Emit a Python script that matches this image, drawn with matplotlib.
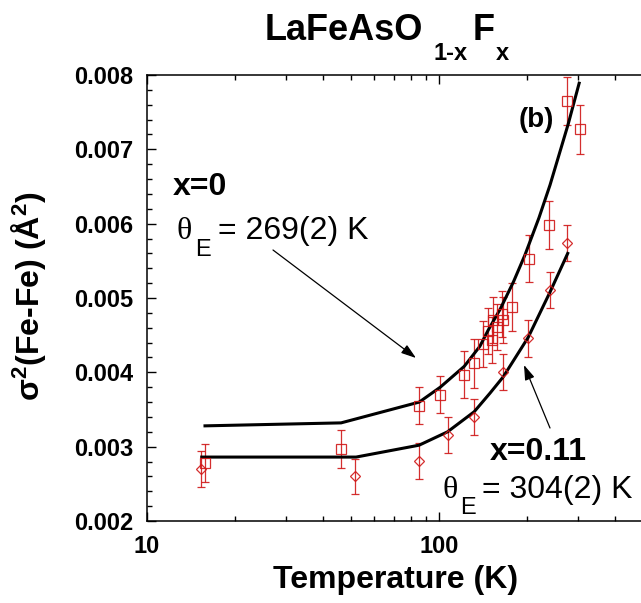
import matplotlib
matplotlib.use('Agg')
import matplotlib.pyplot as plt
from matplotlib.ticker import FixedLocator, MultipleLocator, FormatStrFormatter, NullFormatter

# x = 0 (squares)
sq_T = [15.8, 46.2, 85.6, 101, 121.8, 132.1, 141.8, 146.8, 151.5, 152.7,
        157.6, 163.9, 166.0, 177.4, 202.8, 238.1, 274.4, 304]
sq_y = [0.00278, 0.00297, 0.00355, 0.00370, 0.00397, 0.00412, 0.00438, 0.00456,
        0.00443, 0.00471, 0.00461, 0.00479, 0.00471, 0.00488, 0.00553, 0.00598,
        0.00765, 0.00727]
sq_err = [0.00025, 0.00026, 0.00025, 0.00025, 0.00032, 0.00033, 0.00031, 0.00031,
          0.00031, 0.00031, 0.00031, 0.00031, 0.00031, 0.00032, 0.00032, 0.00032,
          0.00032, 0.00033]

# x = 0.11 (diamonds)
di_T = [15.3, 51.5, 85.5, 107.4, 132, 166, 202, 239.9, 274]
di_y = [0.00270, 0.00260, 0.00281, 0.00316, 0.00340, 0.00400, 0.00446, 0.00511, 0.00574]
di_err = [0.00024, 0.00024, 0.00024, 0.00024, 0.00024, 0.00024, 0.00025, 0.00024, 0.00024]

# Einstein fits
fit0_T = [15.8, 46.2, 85.6, 101, 122, 138, 147.5, 162, 180, 197, 220, 240, 277, 302]
fit0_y = [0.00328, 0.00332, 0.00360, 0.00380, 0.00408, 0.00435, 0.00457, 0.00485,
          0.00522, 0.00558, 0.00608, 0.00652, 0.00734, 0.00789]
fit1_T = [15.4, 52, 85.5, 107, 132, 149.5, 166, 202, 240, 275.9]
fit1_y = [0.00286, 0.00286, 0.00302, 0.00320, 0.00347, 0.00372, 0.00394, 0.00447,
          0.00508, 0.00560]

red = '#d01818'
W, H = 641, 603


def px(x, y):
    return x / W, 1 - y / H


plt.rcParams['font.family'] = ['Liberation Sans', 'DejaVu Sans']
plt.rcParams['mathtext.default'] = 'regular'

fig = plt.figure(figsize=(6.41, 6.03), dpi=100)
ax = fig.add_axes([147 / W, (H - 521) / H, 496.1 / W, 446 / H])

ax.errorbar(sq_T, sq_y, yerr=sq_err, fmt='s', mfc='none', mec=red, ecolor=red,
            ms=6.5, mew=0.9, capsize=3, elinewidth=0.9, capthick=0.9, alpha=0.9)
ax.errorbar(di_T, di_y, yerr=di_err, fmt='D', mfc='none', mec=red, ecolor=red,
            ms=5, mew=0.9, capsize=3, elinewidth=0.9, capthick=0.9, alpha=0.9)
ax.plot(fit0_T, fit0_y, color='black', lw=2.2)
ax.plot(fit1_T, fit1_y, color='black', lw=2.2)

ax.set_xscale('log')
ax.set_xlim(10, 500)
ax.set_ylim(0.002, 0.008)
ax.xaxis.set_major_locator(FixedLocator([10, 100]))
ax.xaxis.set_minor_locator(FixedLocator([20, 30, 40, 50, 60, 70, 80, 90, 200, 300, 400]))
ax.xaxis.set_major_formatter(FormatStrFormatter('%d'))
ax.xaxis.set_minor_formatter(NullFormatter())
ax.yaxis.set_major_locator(MultipleLocator(0.001))
ax.yaxis.set_minor_locator(MultipleLocator(0.0002))
ax.yaxis.set_major_formatter(FormatStrFormatter('%.3f'))

ax.tick_params(which='both', direction='in', top=True, right=False, width=1)
ax.tick_params(which='major', length=6.5, labelsize=17, pad=10)
ax.tick_params(which='minor', length=3.5)
for lab in ax.get_xticklabels() + ax.get_yticklabels():
    lab.set_fontweight('bold')
for s in ax.spines.values():
    s.set_linewidth(1.1)
ax.spines['right'].set_visible(False)

# title
fig.text(*px(265, 40), 'LaFeAsO', fontsize=26, fontweight='bold', va='baseline')
fig.text(*px(434, 60), '1-x', fontsize=17, fontweight='bold', va='baseline')
fig.text(*px(473, 40), 'F', fontsize=26, fontweight='bold', va='baseline')
fig.text(*px(496, 60), 'x', fontsize=17, fontweight='bold', va='baseline')

# axis labels
fig.text(*px(396, 588), 'Temperature (K)', fontsize=23, fontweight='bold',
         ha='center', va='baseline')
fig.text(*px(29, 296), 'σ$^2$(Fe-Fe) (Å$^2$)', fontsize=23, fontweight='bold',
         rotation=90, ha='center', va='center')

# annotations
fig.text(*px(519, 127), '(b)', fontsize=20, fontweight='bold', va='baseline')

fig.text(*px(173, 195), 'x=0', fontsize=23, fontweight='bold', va='baseline')
fig.text(*px(177, 239), 'θ', fontsize=23, family='Liberation Serif', va='baseline')
fig.text(*px(195, 256), 'E', fontsize=17, va='baseline')
fig.text(*px(218, 239), '= 269(2) K', fontsize=23, va='baseline')

fig.text(*px(490, 460), 'x=0.11', fontsize=23, fontweight='bold', va='baseline')
fig.text(*px(442, 498), 'θ', fontsize=23, family='Liberation Serif', va='baseline')
fig.text(*px(460, 514), 'E', fontsize=17, va='baseline')
fig.text(*px(482, 498), '= 304(2) K', fontsize=23, va='baseline')

arrow = dict(arrowstyle='-|>,head_length=0.6,head_width=0.2', lw=0.9,
             color='black', mutation_scale=15, shrinkA=0, shrinkB=0)
ax.annotate('', xy=px(416, 358), xytext=px(273, 250), xycoords='figure fraction',
            textcoords='figure fraction', arrowprops=arrow)
ax.annotate('', xy=px(524, 365), xytext=px(550, 428), xycoords='figure fraction',
            textcoords='figure fraction', arrowprops=arrow)

fig.savefig('out.png', dpi=100)
